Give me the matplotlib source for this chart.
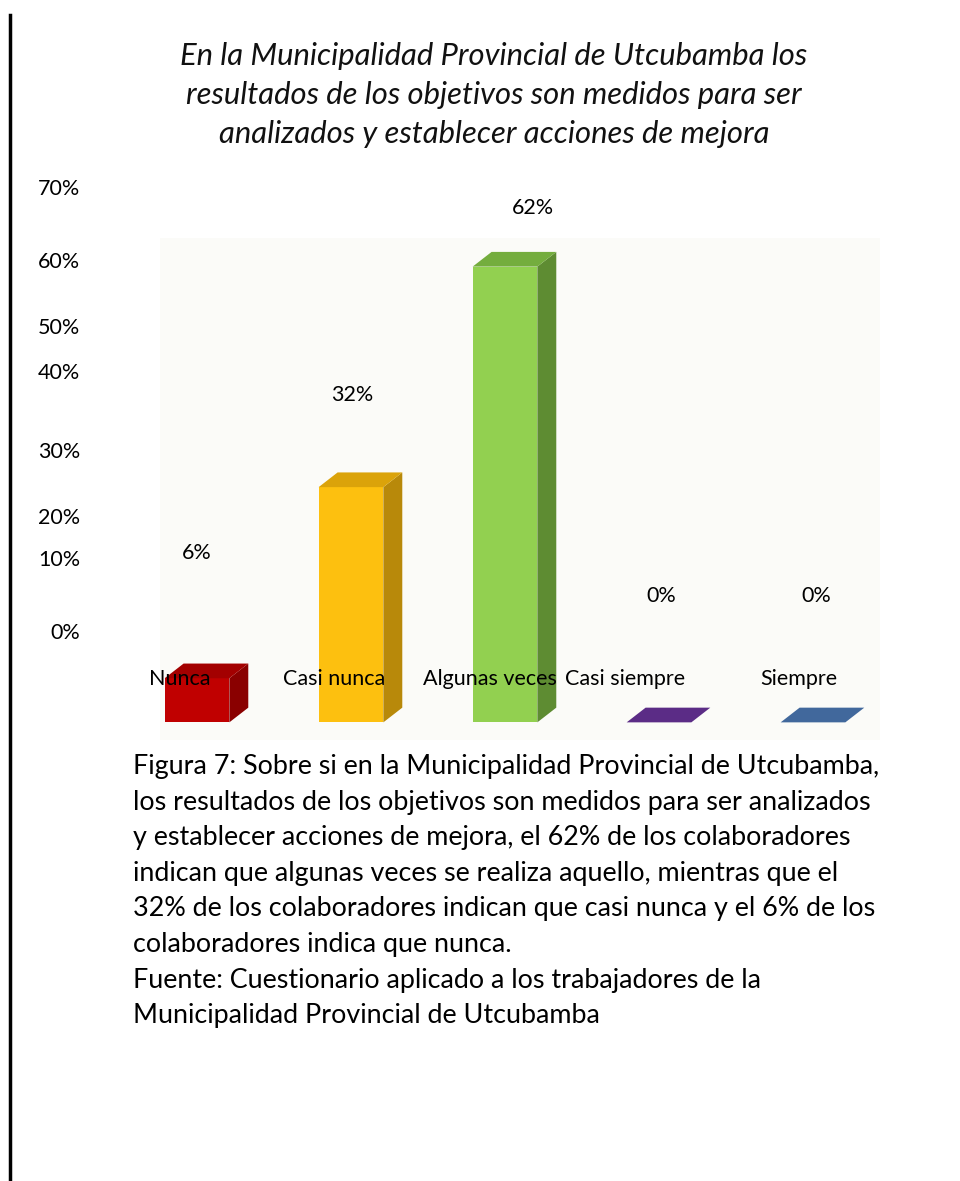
import matplotlib.pyplot as plt
from matplotlib.patches import Polygon, Rectangle
from matplotlib.lines import Line2D

plt.rcParams['font.family'] = ['Lato', 'DejaVu Sans']

categories = ['Nunca', 'Casi nunca', 'Algunas veces', 'Casi siempre', 'Siempre']
values = [6, 32, 62, 0, 0]
value_labels = ['6%', '32%', '62%', '0%', '0%']
tick_labels = ['70%', '60%', '50%', '40%', '30%', '20%', '10%', '0%']

title = ('En la Municipalidad Provincial de Utcubamba los\n'
         'resultados de los objetivos son medidos para ser\n'
         'analizados y establecer acciones de mejora')
caption = ('Figura 7: Sobre si en la Municipalidad Provincial de Utcubamba,\n'
           'los resultados de los objetivos son medidos para ser analizados\n'
           'y establecer acciones de mejora, el 62% de los colaboradores\n'
           'indican que algunas veces se realiza aquello, mientras que el\n'
           '32% de los colaboradores indican que casi nunca y el 6% de los\n'
           'colaboradores indica que nunca.\n'
           'Fuente: Cuestionario aplicado a los trabajadores de la\n'
           'Municipalidad Provincial de Utcubamba')

front = ['#c00000', '#fdc00f', '#92d050', '#5b2c86', '#41689c']
side = ['#8a0000', '#b8890a', '#5e8c32', '#4a2370', '#34557f']
top = ['#a30000', '#dba30a', '#74ad3e', '#5b2c86', '#41689c']

W, H = 960, 1181
fig = plt.figure(figsize=(W / 100, H / 100), dpi=100)


def fx(px):
    return px / W


def fy(py):
    return 1 - py / H


# faint plot area background
fig.patches.append(Rectangle((fx(160), fy(740)), fx(880) - fx(160), fy(238) - fy(740),
                             transform=fig.transFigure, facecolor='#fbfbf8',
                             edgecolor='none', zorder=-5))

# left page border
fig.add_artist(Line2D([fx(10), fx(10)], [0, fy(15)], color='black', lw=2.5))

ax = fig.add_axes([fx(120), fy(740), fx(890) - fx(120), fy(235) - fy(740)])
ax.set_xlim(-0.5, 4.5)
ax.set_ylim(-2.4, 66.3)
ax.patch.set_alpha(0)
for s in ax.spines.values():
    s.set_visible(False)
ax.set_xticks([])
ax.set_yticks([])

w = 0.42
dx, dy = 0.123, 2.0
x = list(range(len(categories)))
ax.bar(x, values, width=w, color=front, zorder=2)
for i, v in enumerate(values):
    r = x[i] + w / 2
    l = x[i] - w / 2
    if v > 0:
        ax.add_patch(Polygon([(r, 0), (r + dx, dy), (r + dx, v + dy), (r, v)],
                             closed=True, facecolor=side[i], edgecolor='none', zorder=2))
    ax.add_patch(Polygon([(l, v), (l + dx, v + dy), (r + dx, v + dy), (r, v)],
                         closed=True, facecolor=top[i], edgecolor='none', zorder=2))

# title
fig.text(fx(494), fy(95), title, ha='center', va='center', fontsize=22.3,
         style='italic', linespacing=1.5, color='#111111')

# y labels (placed as in the source image)
tick_y = [189, 262, 328, 373, 452, 518, 560, 633]
for lab, py in zip(tick_labels, tick_y):
    fig.text(fx(80), fy(py), lab, ha='right', va='center', fontsize=15.5)

# value labels
val_pos = [(197, 553), (352, 395), (533, 208), (661, 596), (816, 596)]
for lab, (px, py) in zip(value_labels, val_pos):
    fig.text(fx(px), fy(py), lab, ha='center', va='center', fontsize=15.5)

# category labels
cat_x = [180, 334, 490, 625, 799]
for lab, px in zip(categories, cat_x):
    fig.text(fx(px), fy(679), lab, ha='center', va='center', fontsize=15.5, zorder=5)

fig.text(fx(133), fy(754), caption, ha='left', va='top', fontsize=19.4,
         linespacing=1.53)

fig.savefig('out.png', dpi=100, facecolor='white')
